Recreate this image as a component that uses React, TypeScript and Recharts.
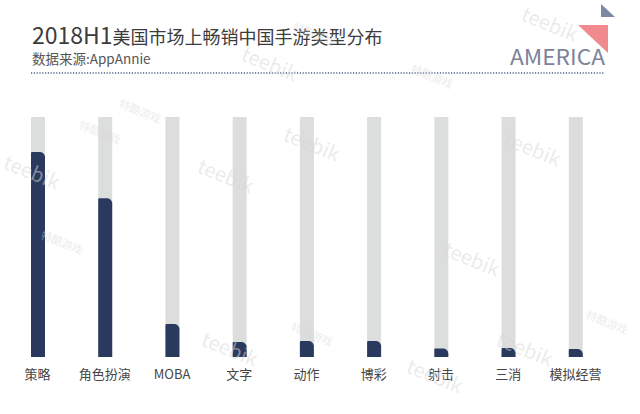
import { BarChart, Bar, XAxis, YAxis } from "recharts";

// categories and share (full bar = 100)
const categories = ["策略", "角色扮演", "MOBA", "文字", "动作", "博彩", "射击", "三消", "模拟经营"];
const shares = [85.4, 66.1, 13.8, 6.3, 6.7, 6.7, 3.5, 3.8, 3.3];

const chartData = categories.map((name, i) => ({ name, value: shares[i] }));

const FONT = "'Noto Sans CJK SC', 'Noto Sans', sans-serif";

// faint "teebik" / "特酷游戏" watermarks scattered over the picture
const watermarks = [
  { t: "teebik", x: 196, y: 172 },
  { t: "teebik", x: 282, y: 140 },
  { t: "teebik", x: 442, y: 255 },
  { t: "teebik", x: 503, y: 145 },
  { t: "teebik", x: 2, y: 168 },
  { t: "teebik", x: 240, y: 60 },
  { t: "teebik", x: 520, y: 20 },
  { t: "teebik", x: 200, y: 345 },
  { t: "teebik", x: 405, y: 372 },
  { t: "teebik", x: 495, y: 345 },
  { t: "特酷游戏", x: 78, y: 128 },
  { t: "特酷游戏", x: 40, y: 238 },
  { t: "特酷游戏", x: 118, y: 107 },
  { t: "特酷游戏", x: 292, y: 30 },
  { t: "特酷游戏", x: 410, y: 72 },
  { t: "特酷游戏", x: 290, y: 330 },
  { t: "特酷游戏", x: 585, y: 318 },
];

// navy value bar with a slightly cut top-right corner
function NavyBar(props: any) {
  const { x, y, width, height, fill } = props;
  if (!height || height <= 0) {return null;}
  const c = Math.min(4.5, height);
  const d = `M${x},${y + height} L${x},${y + 1} Q${x},${y} ${x + 1},${y} L${x + width - c},${y} Q${x + width - 1},${y + 0.5} ${x + width},${y + c} L${x + width},${y + height} Z`;
  return <path d={d} fill={fill} />;
}

export default function App() {
  return (
    <div style={{ position: "absolute", left: 0, top: 0, width: 640, height: 414, background: "#ffffff", fontFamily: FONT }}>
      <BarChart
        width={640}
        height={414}
        data={chartData}
        margin={{ top: 117, right: 31, bottom: 27, left: 4 }}
      >
        <XAxis
          dataKey="name"
          interval={0}
          axisLine={false}
          tickLine={false}
          tickMargin={7}
          tick={{ fontSize: 13, fill: "#454545", fontFamily: FONT }}
        />
        <YAxis hide domain={[0, 100]} />
        <Bar
          dataKey="value"
          barSize={14}
          fill="#2a3a5f"
          background={{ fill: "#dcdddd" }}
          shape={NavyBar}
          isAnimationActive={false}
        />
      </BarChart>

      <svg
        width={640}
        height={414}
        style={{ position: "absolute", left: 0, top: 0, pointerEvents: "none" }}
      >
        <text x={32} y={44} fill="#3c3c3c" fontFamily={FONT}>
          <tspan fontSize={23}>2018H1</tspan>
          <tspan fontSize={18}>美国市场上畅销中国手游类型分布</tspan>
        </text>
        <text x={32} y={64} fill="#555555" fontSize={13.5} fontFamily={FONT}>
          数据来源:AppAnnie
        </text>
        <line x1={31} y1={73} x2={605} y2={73} stroke="#4f5f85" strokeWidth={1.3} strokeDasharray="1.2 1.6" />

        <polygon points="601,4 601,17 615,17" fill="#7f88a3" />
        <polygon points="578,25 608,25 608,53" fill="#f08a8f" />
        <text
          x={510}
          y={65}
          fill="#7c8398"
          fontSize={22}
          fontFamily={FONT}
          textLength={95}
          lengthAdjust="spacingAndGlyphs"
        >
          AMERICA
        </text>

        {watermarks.map((w, i) => (
          <text
            key={`wm-${i}`}
            x={w.x}
            y={w.y}
            fill="#d8d8d8"
            fillOpacity={0.5}
            fontSize={w.t === "teebik" ? 20 : 11}
            fontFamily={FONT}
            transform={`rotate(22 ${w.x} ${w.y})`}
          >
            {w.t}
          </text>
        ))}
      </svg>
    </div>
  );
}
